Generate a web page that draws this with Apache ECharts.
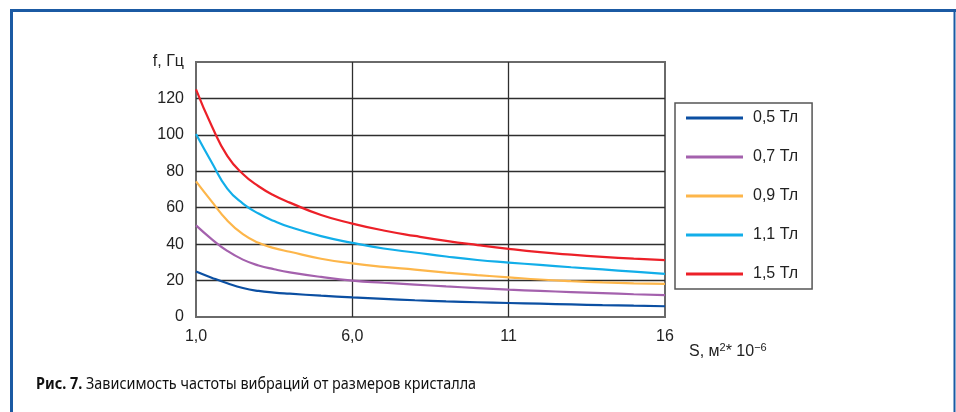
<!DOCTYPE html>
<html>
<head>
<meta charset="utf-8">
<script src="https://cdn.jsdelivr.net/npm/echarts@6/dist/echarts.min.js"></script>
<style>
  html, body { margin: 0; padding: 0; background: #fff; }
  #chart { width: 956px; height: 412px; }
</style>
</head>
<body>
<div id="chart"></div>
<script>
// Crystal area S (m² · 10⁻⁶) at which each curve is sampled
const areaS = [1, 1.5, 2, 2.5, 3, 3.5, 4, 5, 6, 7, 8, 9, 10, 11, 12, 13, 14, 15, 16];

// Vibration frequency f (Hz) for each magnetic induction
const f05 = [25, 21.6, 18.5, 15.9, 14.3, 13.4, 12.8, 11.7, 10.8, 10, 9.2, 8.6, 8.1, 7.7, 7.3, 6.9, 6.5, 6.2, 5.9];
const f07 = [50.3, 42.8, 36.3, 31.5, 28.3, 26.2, 24.5, 22, 20, 18.8, 17.8, 16.8, 15.9, 15, 14.3, 13.7, 13.1, 12.5, 12];
const f09 = [74.5, 63.5, 53, 45.5, 40.7, 37.8, 35.8, 32, 29.4, 27.5, 26, 24.4, 23, 21.8, 20.6, 19.7, 19, 18.5, 18.2];
const f11 = [100.5, 85, 70.5, 62.3, 56.8, 52.7, 49.4, 44.4, 40.7, 37.6, 35.4, 33.2, 31.3, 29.9, 28.6, 27.3, 26.1, 24.9, 23.7];
const f15 = [125, 105, 88.5, 78.5, 71.8, 66.7, 62.8, 56, 51.3, 47.5, 44.5, 41.8, 39.5, 37.4, 35.6, 34.2, 33, 32, 31.2];

const seriesNames = ['0,5 Тл', '0,7 Тл', '0,9 Тл', '1,1 Тл', '1,5 Тл'];
const seriesValues = [f05, f07, f09, f11, f15];
const seriesColors = ['#0b4fa2', '#a461ad', '#fdb64a', '#12aee9', '#ec2028'];

// Axis tick labels
const xTickValues = [1, 6, 11, 16];
const xTickLabels = ['1,0', '6,0', '11', '16'];
const yTopLabel = 'f, Гц';
const xAxisTitle = ['S, м', '2', '* 10', '−6'];
const captionBold = 'Рис. 7.';
const captionText = ' Зависимость частоты вибраций от размеров кристалла';

const textColor = '#222';
const baseFont = '"Liberation Sans", Arial, sans-serif';

const chart = echarts.init(document.getElementById('chart'), null, { renderer: 'canvas' });

const series = seriesNames.map((name, i) => ({
  name: name,
  type: 'line',
  smooth: 0.5,
  symbol: 'none',
  color: seriesColors[i],
  lineStyle: { width: 2.2, color: seriesColors[i] },
  data: areaS.map((s, k) => [s, seriesValues[i][k]])
}));

chart.setOption({
  animation: false,
  backgroundColor: '#fff',
  grid: {
    left: 196, top: 62, width: 469, height: 255,
    show: true, borderColor: '#6a6a6a', borderWidth: 2, backgroundColor: 'transparent'
  },
  xAxis: {
    type: 'value',
    min: 1, max: 16, interval: 5,
    axisLine: { show: false },
    axisTick: { show: false },
    splitLine: { show: true, showMinLine: false, showMaxLine: false, lineStyle: { color: '#2e2e2e', width: 1.3 } },
    axisLabel: {
      margin: 12, fontSize: 16, color: textColor, fontFamily: baseFont,
      formatter: v => {
        const idx = xTickValues.indexOf(Math.round(v));
        return idx >= 0 ? xTickLabels[idx] : '';
      }
    },
    name: '{t|' + xAxisTitle[0] + '}{s|' + xAxisTitle[1] + '}{t|' + xAxisTitle[2] + '}{s|' + xAxisTitle[3] + '}',
    nameLocation: 'end',
    nameGap: 24,
    nameTextStyle: {
      align: 'left', verticalAlign: 'top', padding: [25, 0, 0, 0],
      rich: {
        t: { fontSize: 16, color: textColor, fontFamily: baseFont, lineHeight: 18, verticalAlign: 'bottom' },
        s: { fontSize: 11, color: textColor, fontFamily: baseFont, lineHeight: 18, verticalAlign: 'top', padding: [0, 0, 6, 0] }
      }
    }
  },
  yAxis: {
    type: 'value',
    min: 0, max: 140, interval: 20,
    axisLine: { show: false },
    axisTick: { show: false },
    splitLine: { show: true, showMinLine: false, showMaxLine: false, lineStyle: { color: '#2e2e2e', width: 1.3 } },
    axisLabel: {
      margin: 12, fontSize: 16, color: textColor, fontFamily: baseFont,
      formatter: v => (v === 140 ? yTopLabel : String(v))
    }
  },
  legend: {
    orient: 'vertical',
    left: 675, top: 103,
    icon: 'rect',
    itemWidth: 57, itemHeight: 3, itemGap: 23,
    padding: [7, 14, 7, 11],
    borderColor: '#555', borderWidth: 1.5,
    textStyle: { fontSize: 16, color: textColor, fontFamily: baseFont, lineHeight: 16, padding: [0, 0, 0, 5] },
    data: seriesNames
  },
  graphic: [
    // publication frame
    { type: 'rect', silent: true, shape: { x: 10, y: 9, width: 946, height: 3 }, style: { fill: '#1b5aa3' } },
    { type: 'rect', silent: true, shape: { x: 10, y: 9, width: 3, height: 403 }, style: { fill: '#1b5aa3' } },
    { type: 'rect', silent: true, shape: { x: 953.5, y: 9, width: 2, height: 403 }, style: { fill: '#1b5aa3' } },
    // figure caption, set in a narrowed face
    {
      type: 'text', left: 36, top: 376, silent: true,
      scaleX: 0.9,
      style: {
        text: '{b|' + captionBold + '}{r|' + captionText + '}',
        rich: {
          b: { fontSize: 16, fontWeight: 'bold', fill: '#111', fontFamily: '"Noto Sans", sans-serif' },
          r: { fontSize: 16, fill: '#111', fontFamily: '"Noto Sans", sans-serif' }
        }
      }
    }
  ],
  series: series
});
</script>
</body>
</html>
